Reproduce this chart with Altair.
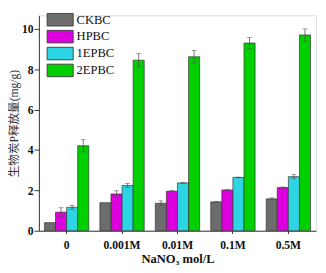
import altair as alt
import pandas as pd

categories = ["0", "0.001M", "0.01M", "0.1M", "0.5M"]
series = ["CKBC", "HPBC", "1EPBC", "2EPBC"]
colors = ["#6c6c6c", "#dc00dc", "#2cd4e4", "#00d000"]

values = {
    "CKBC": [0.40, 1.39, 1.36, 1.43, 1.58],
    "HPBC": [0.92, 1.82, 1.96, 2.02, 2.14],
    "1EPBC": [1.16, 2.24, 2.37, 2.64, 2.68],
    "2EPBC": [4.21, 8.45, 8.62, 9.30, 9.70],
}
errors = {
    "CKBC": [0.00, 0.00, 0.12, 0.03, 0.05],
    "HPBC": [0.22, 0.16, 0.03, 0.03, 0.03],
    "1EPBC": [0.10, 0.10, 0.02, 0.02, 0.10],
    "2EPBC": [0.30, 0.33, 0.31, 0.27, 0.30],
}

rows = []
for s in series:
    for c, v, e in zip(categories, values[s], errors[s]):
        rows.append({"cat": c, "series": s, "value": v, "lo": v - e, "hi": v + e, "err": e})
df = pd.DataFrame(rows)

serif = "Liberation Serif"

x_enc = alt.X(
    "cat:N",
    sort=categories,
    scale=alt.Scale(paddingInner=0.2, paddingOuter=0.1),
    axis=alt.Axis(
        title="NaNO₃ mol/L",
        labelAngle=0,
        labelFont=serif,
        labelFontSize=12,
        labelFontWeight="bold",
        labelColor="#111",
        labelPadding=6,
        tickSize=3,
        tickColor="#333",
        domainColor="#333",
        titleFont=serif,
        titleFontSize=13,
        titleFontWeight="bold",
        titleColor="#111",
        titlePadding=3,
    ),
)
xoff = alt.XOffset("series:N", sort=series)

y_scale = alt.Scale(domain=[0, 10.67], nice=False, zero=True)
y_axis = alt.Axis(
    title="生物炭P释放量(mg/g)",
    values=list(range(0, 11)),
    labelExpr="datum.value % 2 == 0 ? datum.label : ''",
    tickSize={"condition": {"test": "datum.value % 2 == 0", "value": 5}, "value": 3},
    tickColor="#333",
    domainColor="#333",
    grid=False,
    labelFont=serif,
    labelFontSize=12,
    labelFontWeight="bold",
    labelColor="#111",
    labelPadding=1,
    titleFont="Liberation Serif, Noto Sans CJK SC",
    titleFontSize=12,
    titleFontWeight="normal",
    titleColor="#333",
    titlePadding=1,
)

bars = alt.Chart(df).mark_bar(stroke="#333", strokeWidth=0.7).encode(
    x=x_enc,
    xOffset=xoff,
    y=alt.Y("value:Q", scale=y_scale, axis=y_axis),
    color=alt.Color(
        "series:N",
        sort=series,
        scale=alt.Scale(domain=series, range=colors),
        legend=alt.Legend(
            title=None,
            orient="none",
            legendX=15.5,
            legendY=-2,
            symbolType="M-2.25,-1.08H2.25V1.08H-2.25Z",
            symbolSize=144,
            symbolStrokeColor="#444",
            symbolStrokeWidth=1,
            labelFont=serif,
            labelFontSize=13,
            labelColor="#111",
            labelOffset=10.5,
            rowPadding=0.5,
        ),
    ),
)

err_df = df[df["err"] > 0]
rules = alt.Chart(err_df).mark_rule(color="#555", strokeWidth=0.8).encode(
    x=alt.X("cat:N", sort=categories),
    xOffset=xoff,
    y=alt.Y("lo:Q", scale=y_scale),
    y2="hi:Q",
)
caps_hi = alt.Chart(err_df).mark_tick(color="#555", thickness=0.8, size=5).encode(
    x=alt.X("cat:N", sort=categories),
    xOffset=xoff,
    y=alt.Y("hi:Q", scale=y_scale),
)
caps_lo = alt.Chart(err_df).mark_tick(color="#555", thickness=0.8, size=5).encode(
    x=alt.X("cat:N", sort=categories),
    xOffset=xoff,
    y=alt.Y("lo:Q", scale=y_scale),
)

chart = (
    alt.layer(bars, rules, caps_hi, caps_lo)
    .properties(width=287, height=223, padding={"left": 0, "top": 1, "right": 2, "bottom": 0})
    .configure_view(stroke="#333", strokeWidth=1)
    .configure(background="white")
)

chart.save("out.html", embed_options={"renderer": "svg", "actions": False})
